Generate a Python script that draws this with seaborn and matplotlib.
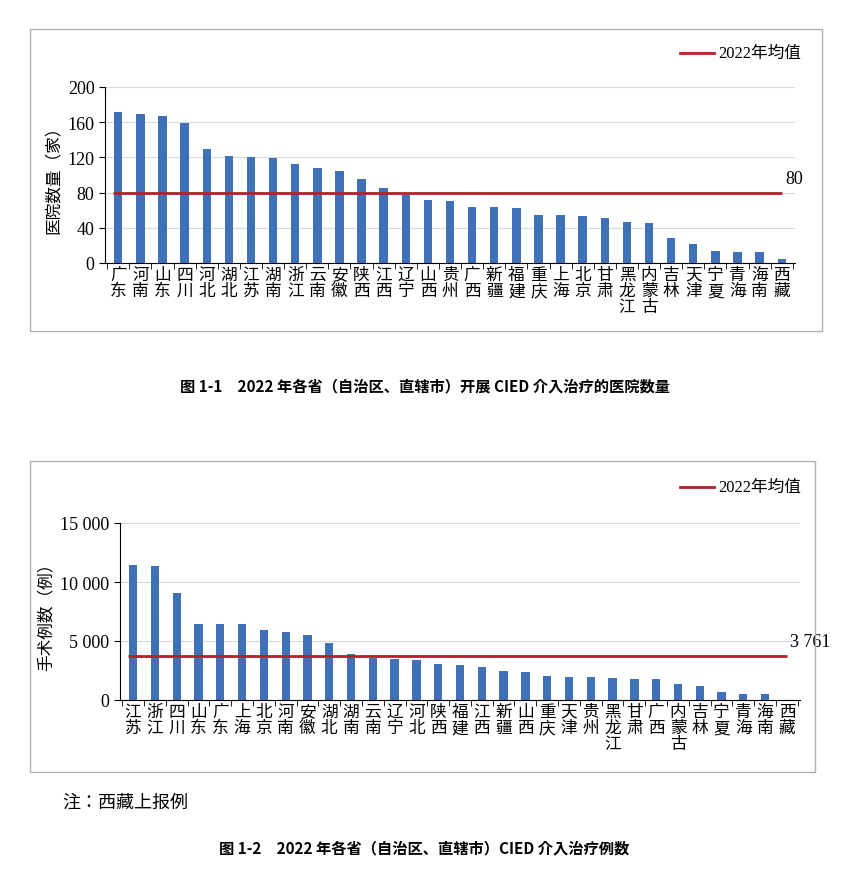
import matplotlib
matplotlib.use("Agg")
import matplotlib.pyplot as plt
import seaborn as sns
import numpy as np
import pandas as pd
from matplotlib.patches import Rectangle
from matplotlib.lines import Line2D
from matplotlib import font_manager

names_avail = {f.name for f in font_manager.fontManager.ttflist}
cjk_list = [n for n in ["Noto Sans CJK SC", "Noto Sans CJK JP", "Noto Sans CJK TC", "Noto Sans CJK KR"] if n in names_avail] or ["DejaVu Sans"]
CJK = cjk_list
NUM = "Liberation Serif"
MIX = [NUM] + cjk_list

prov1 = ["广东","河南","山东","四川","河北","湖北","江苏","湖南","浙江","云南","安徽","陕西","江西","辽宁","山西","贵州","广西","新疆","福建","重庆","上海","北京","甘肃","黑龙江","内蒙古","吉林","天津","宁夏","青海","海南","西藏"]
hosp = [172,169,167,159,130,122,121,119,113,108,104,96,85,77,72,70,64,64,63,55,55,53,51,47,46,28,22,14,13,13,4]
mean1 = 80

prov2 = ["江苏","浙江","四川","山东","广东","上海","北京","河南","安徽","湖北","湖南","云南","辽宁","河北","陕西","福建","江西","新疆","山西","重庆","天津","贵州","黑龙江","甘肃","广西","内蒙古","吉林","宁夏","青海","海南","西藏"]
cases = [11480,11390,9100,6480,6450,6400,5950,5780,5530,4820,3920,3520,3440,3350,3020,2930,2760,2420,2340,2000,1920,1920,1860,1750,1750,1325,1160,680,510,480,0]
mean2 = 3761

yticks1 = [0,40,80,120,160,200]
yticks2 = [0,5000,10000,15000]
ytl2 = ["0","5 000","10 000","15 000"]

W, H = 849, 870
fig = plt.figure(figsize=(W/100, H/100), dpi=100)
BLUE = "#3f70b8"
RED = "#b5202b"

def box(x0, y0, x1, y1):
    fig.patches.append(Rectangle((x0/W, 1-y1/H), (x1-x0)/W, (y1-y0)/H,
                                 transform=fig.transFigure, fill=False, ec="#b0b0b0", lw=1))

def legend(x, y):
    fig.lines.append(Line2D([x/W, (x+34)/W], [1-y/H, 1-y/H], color=RED, lw=2, transform=fig.transFigure))
    fig.text((x+38)/W, 1-y/H, "2022年均值", fontfamily=MIX, fontsize=12, va="center")

def panel(rect, names, vals, mean, yt, ytl, ylim, ylabel, meanlbl):
    ax = fig.add_axes(rect)
    df = pd.DataFrame({"p": names, "v": vals})
    sns.barplot(data=df, x="p", y="v", color=BLUE, width=0.38, ax=ax, saturation=1)
    n = len(names)
    ax.hlines(mean, -0.25, n-1, color=RED, lw=2, zorder=3)
    ax.text(n-1+0.15, mean + (ylim[1]*0.03), meanlbl, fontfamily=NUM, fontsize=13, ha="left", va="bottom")
    ax.set_xlim(-0.6, n-0.4)
    ax.set_ylim(*ylim)
    ax.set_yticks(yt)
    ax.set_yticklabels(ytl, fontfamily=NUM, fontsize=13)
    ax.set_xticks(range(n))
    ax.set_xticklabels(["\n".join(s) for s in names], fontfamily=CJK, fontsize=12, linespacing=0.95, va="top")
    ax.tick_params(axis="x", length=0, pad=2)
    ax.set_xticks(np.arange(-0.5, n, 1), minor=True)
    ax.tick_params(axis="x", which="minor", length=4, direction="out")
    ax.tick_params(axis="y", length=4, direction="out")
    ax.grid(axis="y", color="#d9d9d9", lw=0.8)
    ax.set_axisbelow(True)
    for s in ["top", "right"]:
        ax.spines[s].set_visible(False)
    ax.set_xlabel("")
    ax.set_ylabel(ylabel, fontfamily=CJK, fontsize=12)
    return ax

box(30, 30, 822, 332)
legend(680, 54)
panel([105/W, 1-264/H, 690/W, 176/H], prov1, hosp, mean1, yticks1, [str(t) for t in yticks1], (0, 200), "医院数量（家）", "80")
fig.text(0.5, 1-386/H, "图 1-1　2022 年各省（自治区、直辖市）开展 CIED 介入治疗的医院数量",
         fontfamily=CJK, fontsize=11, fontweight="bold", ha="center", va="center")

box(30, 462, 815, 773)
legend(680, 488)
panel([120/W, 1-701/H, 680/W, 177/H], prov2, cases, mean2, yticks2, ytl2, (0, 15000), "手术例数（例）", "3 761")
fig.text(62/W, 1-803/H, "注：西藏上报例", fontfamily=CJK, fontsize=13, va="center")
fig.text(0.5, 1-848/H, "图 1-2　2022 年各省（自治区、直辖市）CIED 介入治疗例数",
         fontfamily=CJK, fontsize=11, fontweight="bold", ha="center", va="center")

fig.savefig("out.png", dpi=100, facecolor="white")
